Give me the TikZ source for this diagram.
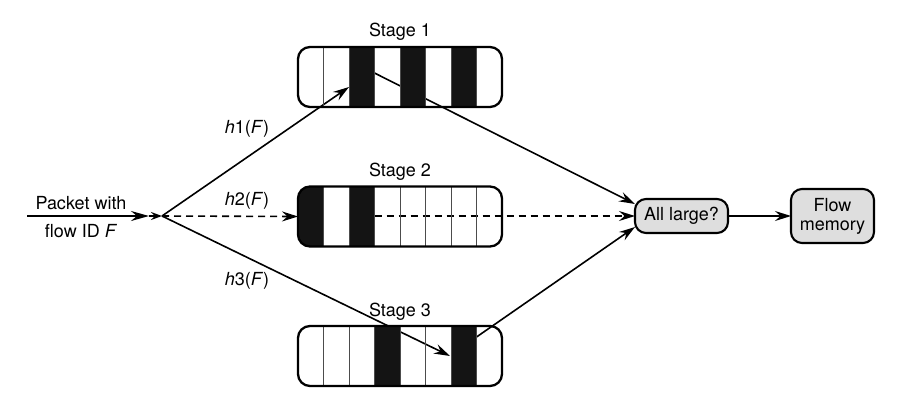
\documentclass[tikz,border=0pt]{standalone}
\usepackage{fontspec}
\setmainfont{TeX Gyre Heros}
\usetikzlibrary{arrows.meta,calc}
\pgfdeclarelayer{back}
\pgfdeclarelayer{mid}
\pgfsetlayers{back,mid,main}
\tikzset{
  conn/.style={line width=1.6pt, -{Stealth[length=16pt,width=10pt,inset=5.5pt]}},
  dconn/.style={conn, dash pattern=on 7pt off 5pt},
  stagebox/.style={draw, line width=2.3pt, rounded corners=12pt, minimum width=204pt,
    minimum height=60pt, inner sep=0pt, outer sep=0pt},
  decbox/.style={draw, line width=2.1pt, fill=black!13, rounded corners=11pt, inner sep=0pt,
    outer sep=0pt, align=center, font=\fontsize{18}{22}\selectfont},
  lbl/.style={font=\fontsize{18}{21}\selectfont, inner sep=0pt},
  divider/.style={line width=1pt, black!70},
  cellfill/.style={fill=black!92}
}
\newcommand\stagecells[2]{%
  \begin{pgfonlayer}{mid}
    \begin{scope}
      \clip[rounded corners=12pt] (#1.north west) rectangle (#1.south east);
      \foreach \k in {#2} \fill[cellfill] ($(#1.north west)+(25.5*\k,0)$) rectangle ++(25.5,60);
    \end{scope}
    \foreach \k in {1,...,7} \draw[divider] ($(#1.north west)+(25.5*\k,0)$) -- ++(0,60);
  \end{pgfonlayer}}
\begin{document}
\begin{tikzpicture}[x=1pt,y=-1pt]
  \useasboundingbox (0,0) rectangle (902,413);
  % stage boxes
  \node[stagebox] (s1) at (400,77) {};
  \node[stagebox] (s2) at (400,216.5) {};
  \node[stagebox] (s3) at (400,356) {};
  \stagecells{s1}{2,4,6}
  \stagecells{s2}{0,2}
  \stagecells{s3}{3,6}
  % labels
  \node[lbl] (t1) at (400,32) {Stage 1};
  \node[lbl] (t2) at (400,172) {Stage 2};
  \node[lbl] (t3) at (400,312) {Stage 3};
  \node[lbl] (p1) at (81,203) {Packet with};
  \node[lbl] (p2) at (81,231) {flow ID \textit{F}};
  \node[lbl] (h1) at (247,129) {\textit{h}1(\textit{F})};
  \node[lbl] (h2) at (247,201) {\textit{h}2(\textit{F})};
  \node[lbl] (h3) at (247,281) {\textit{h}3(\textit{F})};
  % decision nodes
  \node[decbox, minimum width=93pt, minimum height=34pt] (al) at (681.5,216) {All large?};
  \node[decbox, minimum width=83pt, minimum height=54pt] (fm) at (832.5,216) {Flow\\[-3pt]memory};
  % coordinates
  \coordinate (in) at (27,216);
  \coordinate (mid) at (149,216);
  \coordinate (split) at (162,216);
  \coordinate (e1) at (349,87);
  \coordinate (x1) at (374.5,73);
  \coordinate (x2) at (374.5,216);
  \coordinate (e3) at (450,356);
  \coordinate (x3) at (476.5,337);
  % connectors
  \begin{pgfonlayer}{back}
    \draw[line width=1.6pt, -{Stealth[length=18pt,width=10pt,inset=6pt]}] (in) -- (mid);
    \draw[line width=1.6pt, -{Stealth[length=11pt,width=8pt,inset=4pt]}] (mid) -- (split);
    \draw[conn] (split) -- (e1);
    \draw[dconn] (split) -- (s2.west);
    \draw[conn] (split) -- (e3);
    \draw[conn] (x1) -- ([yshift=12pt]al.west);
    \draw[dconn] (x2) -- (al.west);
    \draw[conn] (x3) -- ([yshift=-11pt]al.west);
    \draw[conn] (al.east) -- (fm.west);
  \end{pgfonlayer}
\end{tikzpicture}
\end{document}
